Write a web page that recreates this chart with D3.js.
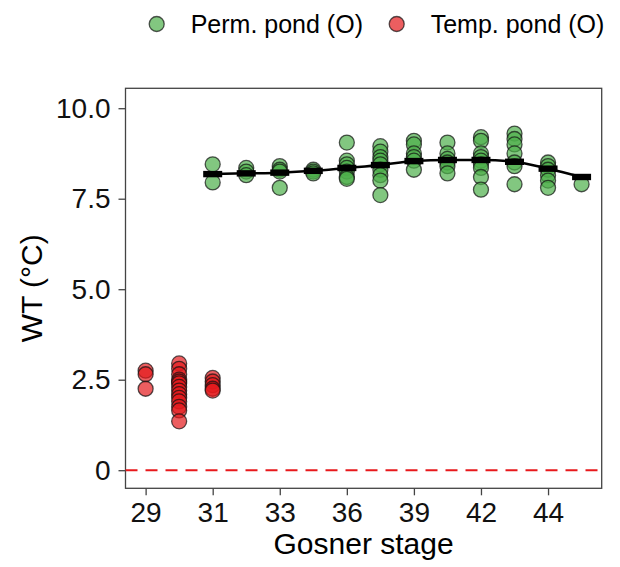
<!DOCTYPE html>
<html>
<head>
<meta charset="utf-8">
<script src="https://cdn.jsdelivr.net/npm/d3@7"></script>
<style>
  body { margin: 0; background: #fff; }
  svg { font-family: Arial, "Liberation Sans", sans-serif; }
</style>
</head>
<body>
<svg width="620" height="567"></svg>
<script>
// categories on the x axis (Gosner stage), only every other one is labelled
var stages = ["29", "30", "31", "32", "33", "34", "36", "37", "39", "40", "42", "43", "44", "45"];
var stageLabels = ["29", "31", "33", "36", "39", "42", "44"];
var yTicks = [0, 2.5, 5, 7.5, 10];

// permanent pond: water temperature per stage
var permStages = ["31", "32", "33", "34", "36", "37", "39", "40", "42", "43", "44", "45"];
var permValues = [
  [8.45, 7.95],
  [8.35, 8.25, 8.15],
  [8.4, 8.3, 8.25, 7.8],
  [8.3, 8.25, 8.2],
  [9.05, 8.55, 8.45, 8.35, 8.25, 8.1, 8.05],
  [8.95, 8.8, 8.65, 8.55, 8.45, 8.3, 8.15, 8.0, 7.6],
  [9.1, 9.0, 8.75, 8.65, 8.55, 8.3],
  [9.05, 8.75, 8.6, 8.5, 8.4, 8.2],
  [9.2, 9.1, 8.75, 8.65, 8.55, 8.45, 8.35, 8.1, 7.75],
  [9.3, 9.15, 9.0, 8.75, 8.5, 8.4, 7.9],
  [8.5, 8.4, 8.3, 8.15, 8.0, 7.8],
  [7.9]
];
var permMeans = [8.18, 8.2, 8.22, 8.27, 8.35, 8.43, 8.54, 8.57, 8.57, 8.52, 8.33, 8.1];

// temporary pond
var tempStages = ["29", "30", "31"];
var tempValues = [
  [2.75, 2.65, 2.25],
  [2.95, 2.8, 2.65, 2.5, 2.45, 2.4, 2.3, 2.2, 2.1, 2.0, 1.9, 1.75, 1.65, 1.35],
  [2.55, 2.45, 2.35, 2.25, 2.2]
];

var green = "#4daf4a";
var red = "#e41a1c";

var pLeft = 125.5, pRight = 601.7, pTop = 88.3, pBottom = 488.3;
var svg = d3.select("svg");

var x = d3.scalePoint().domain(stages).range([pLeft, pRight]).padding(0.6);
var y = d3.scaleLinear().domain([-0.5, 10.55]).range([pBottom, pTop]);

// flatten the per stage lists into points
var permPts = [];
permStages.forEach(function (s, i) {
  permValues[i].forEach(function (v) { permPts.push({ stage: s, v: v }); });
});
var tempPts = [];
tempStages.forEach(function (s, i) {
  tempValues[i].forEach(function (v) { tempPts.push({ stage: s, v: v }); });
});

// panel
svg.append("rect")
  .attr("x", pLeft).attr("y", pTop)
  .attr("width", pRight - pLeft).attr("height", pBottom - pTop)
  .attr("fill", "none").attr("stroke", "#444").attr("stroke-width", 1.3);

// zero line
svg.append("line")
  .attr("x1", pLeft).attr("x2", pRight)
  .attr("y1", y(0)).attr("y2", y(0))
  .attr("stroke", "#e8191c").attr("stroke-width", 2)
  .attr("stroke-dasharray", "12,8");

function drawPoints(pts, col) {
  svg.append("g").selectAll("circle")
    .data(pts).enter().append("circle")
    .attr("cx", function (d) { return x(d.stage); })
    .attr("cy", function (d) { return y(d.v); })
    .attr("r", 7.5)
    .attr("fill", col).attr("fill-opacity", 0.7)
    .attr("stroke", "#111").attr("stroke-opacity", 0.7)
    .attr("stroke-width", 1.3);
}
drawPoints(permPts, green);
drawPoints(tempPts, red);

// mean line with crossbars
var means = permStages.map(function (s, i) { return { stage: s, v: permMeans[i] }; });
svg.append("path")
  .datum(means)
  .attr("fill", "none").attr("stroke", "#000").attr("stroke-width", 2.5)
  .attr("d", d3.line().curve(d3.curveMonotoneX)
    .x(function (d) { return x(d.stage); })
    .y(function (d) { return y(d.v); }));
svg.append("g").selectAll("rect")
  .data(means).enter().append("rect")
  .attr("x", function (d) { return x(d.stage) - 9.5; })
  .attr("y", function (d) { return y(d.v) - 3.2; })
  .attr("width", 19).attr("height", 6.4)
  .attr("fill", "#000");

// axes
var xAxis = d3.axisBottom(x).tickValues(stageLabels).tickSize(7).tickPadding(7);
var gx = svg.append("g")
  .attr("transform", "translate(0," + pBottom + ")")
  .call(xAxis);
var yAxis = d3.axisLeft(y).tickValues(yTicks).tickSize(7).tickPadding(8)
  .tickFormat(function (d) { return d === 0 ? "0" : d.toFixed(1); });
var gy = svg.append("g")
  .attr("transform", "translate(" + pLeft + ",0)")
  .call(yAxis);
[gx, gy].forEach(function (g) {
  g.select(".domain").remove();
  g.selectAll("line").attr("stroke", "#444").attr("stroke-width", 1.3);
  g.selectAll("text").attr("fill", "#111").style("font-size", "28px")
    .style("font-family", "Arial, 'Liberation Sans', sans-serif");
});

// titles
svg.append("text")
  .attr("x", (pLeft + pRight) / 2).attr("y", 554)
  .attr("text-anchor", "middle")
  .style("font-size", "30px").attr("fill", "#000")
  .text("Gosner stage");
svg.append("text")
  .attr("transform", "translate(42," + (pTop + pBottom) / 2 + ") rotate(-90)")
  .attr("text-anchor", "middle")
  .style("font-size", "30px").attr("fill", "#000")
  .text("WT (°C)");

// legend
var legNames = ["Perm. pond (O)", "Temp. pond (O)"];
var legColors = [green, red];
var legX = [156.7, 396.7];
legNames.forEach(function (name, i) {
  svg.append("circle")
    .attr("cx", legX[i]).attr("cy", 24).attr("r", 7.5)
    .attr("fill", legColors[i]).attr("fill-opacity", 0.7)
    .attr("stroke", "#111").attr("stroke-opacity", 0.7).attr("stroke-width", 1.3);
  svg.append("text")
    .attr("x", legX[i] + 34).attr("y", 33)
    .style("font-size", "25px").attr("fill", "#000")
    .text(name);
});
</script>
</body>
</html>
